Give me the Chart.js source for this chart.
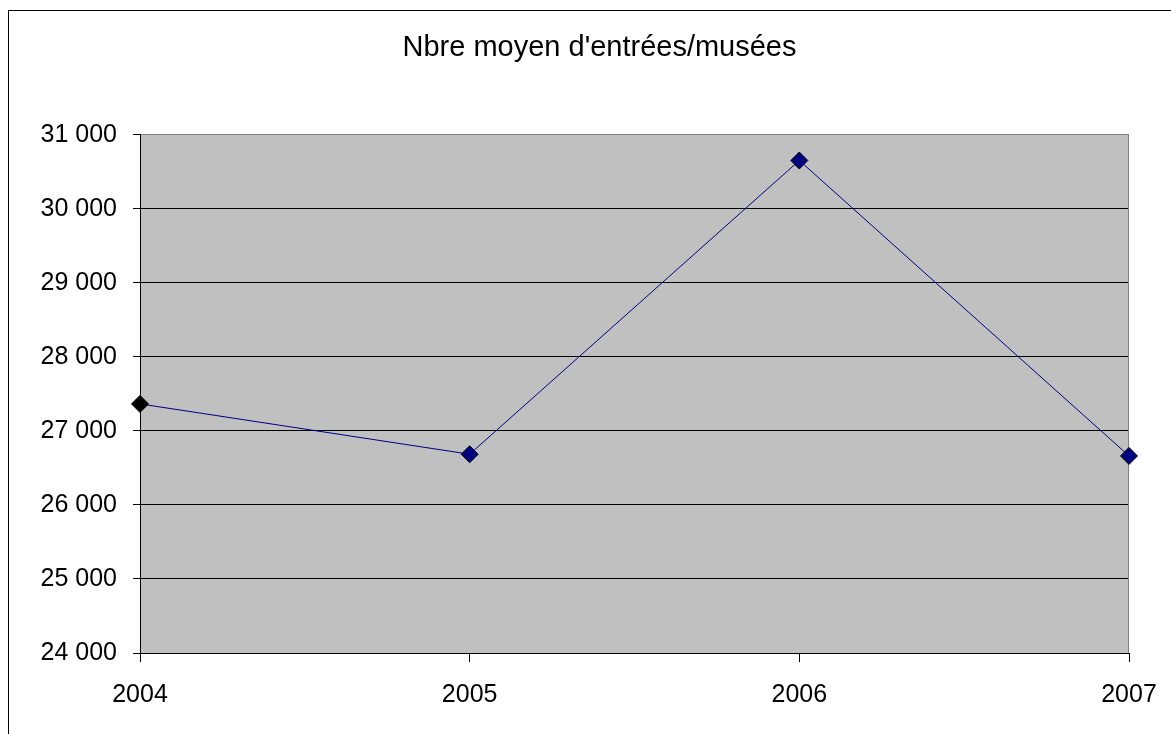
<!DOCTYPE html>
<html>
<head>
<meta charset="utf-8">
<script src="https://cdn.jsdelivr.net/npm/chart.js@4/dist/chart.umd.min.js"></script>
<style>
  html, body { margin: 0; padding: 0; background: #fff; }
  #wrap { width: 1171px; height: 734px; position: relative; }
</style>
</head>
<body>
<div id="wrap"><canvas id="entrees" width="1171" height="734"></canvas></div>
<script>
const years = ['2004', '2005', '2006', '2007']
const moyenneEntrees = [27365, 26685, 30653, 26662]
const markerFill = ['#000000', '#000080', '#000080', '#000080']

const fontFamily = '"Liberation Sans", Arial, sans-serif'

// gray plot area, its gray top/right edge and the outer frame
const plotFrame = {
  id: 'plotFrame',
  beforeDraw(chart) {
    const {ctx, chartArea: a} = chart
    ctx.save()
    ctx.fillStyle = '#ffffff'
    ctx.fillRect(0, 0, chart.width, chart.height)
    ctx.strokeStyle = '#000000'
    ctx.lineWidth = 1
    ctx.strokeRect(8.5, 10.5, chart.width + 20, chart.height + 20)
    ctx.fillStyle = '#c0c0c0'
    ctx.fillRect(a.left, a.top, a.right - a.left, a.bottom - a.top)
    ctx.restore()
  },
  beforeDatasetsDraw(chart) {
    const {ctx, chartArea: a} = chart
    ctx.save()
    ctx.strokeStyle = '#808080'
    ctx.lineWidth = 1
    ctx.beginPath()
    ctx.moveTo(Math.round(a.right) - 0.5, a.top)
    ctx.lineTo(Math.round(a.right) - 0.5, a.bottom)
    ctx.stroke()
    ctx.restore()
  }
}

const ctx = document.getElementById('entrees').getContext('2d')
const chart = new Chart(ctx, {
  type: 'line',
  data: {
    labels: years,
    datasets: [{
      data: moyenneEntrees,
      borderColor: '#000080',
      borderWidth: 1,
      fill: false,
      tension: 0,
      pointStyle: 'rectRot',
      pointRadius: 8.5,
      pointBackgroundColor: markerFill,
      pointBorderColor: '#000000',
      pointBorderWidth: 1
    }]
  },
  options: {
    responsive: false,
    animation: false,
    layout: {
      padding: {left: 28, right: 0, top: 0, bottom: 0}
    },
    plugins: {
      legend: {display: false},
      tooltip: {enabled: false},
      title: {
        display: true,
        text: "Nbre moyen d'entrées/musées",
        color: '#000000',
        font: {family: fontFamily, size: 29, weight: 'normal', lineHeight: 1.2},
        padding: {top: 31, bottom: 69}
      }
    },
    scales: {
      x: {
        offset: false,
        border: {display: true, color: '#000000', width: 1},
        grid: {
          drawOnChartArea: false,
          drawTicks: true,
          tickLength: 9,
          tickColor: '#000000'
        },
        ticks: {
          color: '#000000',
          padding: 18,
          maxRotation: 0,
          font: {family: fontFamily, size: 25}
        },
        afterFit(scale) {
          scale.height = 81
          scale.paddingLeft = 0
          scale.paddingRight = 0
        }
      },
      y: {
        min: 24000,
        max: 31000,
        border: {display: true, color: '#000000', width: 1},
        grid: {
          color: c => c.tick && c.tick.value === 31000 ? '#808080' : '#000000',
          tickColor: '#000000',
          tickLength: 7
        },
        ticks: {
          stepSize: 1000,
          color: '#000000',
          padding: 16,
          font: {family: fontFamily, size: 25},
          callback: v => String(v).replace(/\B(?=(\d{3})+(?!\d))/g, ' ')
        },
        afterFit(scale) { scale.width = 112 }
      },
      // empty right margin so the last year label has room
      marge: {
        position: 'right',
        border: {display: false},
        grid: {display: false},
        ticks: {display: false},
        afterFit(scale) { scale.width = 42 }
      }
    }
  },
  plugins: [plotFrame]
})
</script>
</body>
</html>
